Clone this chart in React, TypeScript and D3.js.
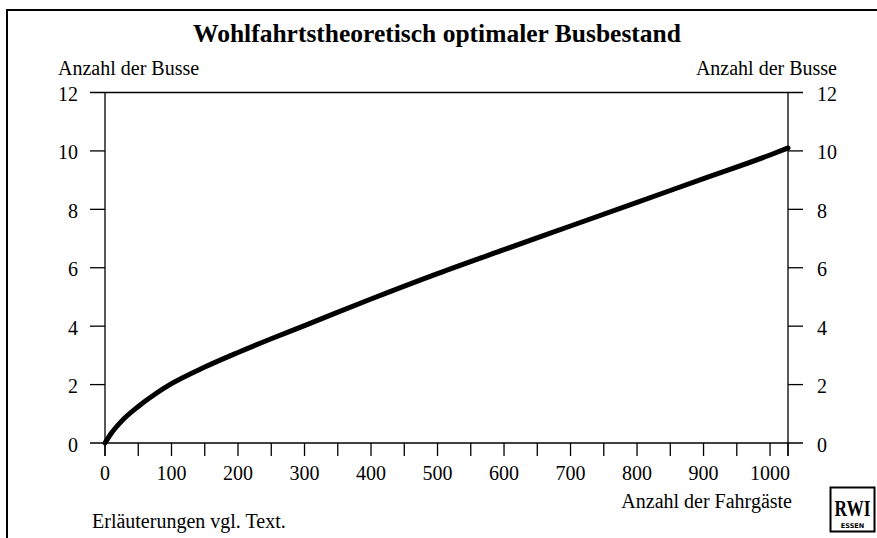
import React from 'react';
import * as d3 from 'd3';

// passengers (x) and optimal number of buses (y)
const passengers = [0, 10, 25, 50, 75, 100, 150, 200, 250, 300, 400, 500, 600, 700, 800, 900, 1000, 1027];
const buses = [0, 0.35, 0.75, 1.25, 1.67, 2.03, 2.6, 3.1, 3.57, 4.02, 4.93, 5.8, 6.62, 7.43, 8.24, 9.05, 9.86, 10.1];

const xTickLabels = [0, 100, 200, 300, 400, 500, 600, 700, 800, 900, 1000];
const xMinorTicks = [0, 50, 100, 150, 200, 250, 300, 350, 400, 450, 500, 550, 600, 650, 700, 750, 800, 850, 900, 950, 1000, 1027];
const yTicks = [0, 2, 4, 6, 8, 10, 12];

const W = 877;
const H = 538;
const font = '"Liberation Serif", "Times New Roman", serif';

const App = () => {
    const x = d3.scaleLinear().domain([0, 1027]).range([105, 788]);
    const y = d3.scaleLinear().domain([0, 12]).range([443, 92.5]);

    const line = d3.line<number>()
        .x((d, i) => x(passengers[i]))
        .y(d => y(d))
        .curve(d3.curveMonotoneX);

    const x0 = x.range()[0];
    const x1 = x.range()[1];

    return (
        <svg width={W} height={H} style={{ position: 'absolute', left: 0, top: 0, background: '#fff' }}
            fontFamily={font}>
            {/* frame */}
            <line x1={7} y1={10} x2={7} y2={H} stroke="#000" strokeWidth={2} />
            <line x1={6} y1={10} x2={W} y2={10} stroke="#000" strokeWidth={2} />

            <text x={437} y={42} textAnchor="middle" fontSize={25.5} fontWeight="bold">
                Wohlfahrtstheoretisch optimaler Busbestand
            </text>
            <text x={58} y={75} fontSize={20}>Anzahl der Busse</text>
            <text x={837} y={75} fontSize={20} textAnchor="end">Anzahl der Busse</text>

            {/* axes */}
            <g stroke="#000" strokeWidth={1.3}>
                <line x1={x0} y1={y(12)} x2={x0} y2={y(0) + 13} />
                <line x1={x1} y1={y(12)} x2={x1} y2={y(0) + 13} />
                <line x1={x0 - 15} y1={y(12)} x2={x1 + 15} y2={y(12)} />
                <line x1={x0 - 15} y1={y(0)} x2={x1 + 15} y2={y(0)} />
                {yTicks.slice(1, -1).map(t => (
                    <g key={t}>
                        <line x1={x0 - 15} y1={y(t)} x2={x0} y2={y(t)} />
                        <line x1={x1} y1={y(t)} x2={x1 + 15} y2={y(t)} />
                    </g>
                ))}
                {xMinorTicks.map(t => (
                    <line key={t} x1={x(t)} y1={y(0)} x2={x(t)} y2={y(0) + 13} />
                ))}
            </g>

            <g fontSize={20}>
                {yTicks.map(t => (
                    <g key={t}>
                        <text x={78} y={y(t) + 8.5} textAnchor="end">{t}</text>
                        <text x={817} y={y(t) + 8.5}>{t}</text>
                    </g>
                ))}
                {xTickLabels.map(t => (
                    <text key={t} x={x(t)} y={480} textAnchor="middle">{t}</text>
                ))}
            </g>

            <path d={line(buses) || ''} fill="none" stroke="#000" strokeWidth={5} strokeLinecap="round" />

            <text x={792} y={508} fontSize={20} textAnchor="end">Anzahl der Fahrgäste</text>
            <text x={92} y={528} fontSize={20}>Erläuterungen vgl. Text.</text>

            {/* RWI logo */}
            <rect x={830.5} y={487.5} width={44} height={44} fill="none" stroke="#000" strokeWidth={2} />
            <text transform="translate(852.5,516) scale(0.72,1)" textAnchor="middle" fontSize={24} fontWeight="bold">RWI</text>
            <text x={852.5} y={527.5} textAnchor="middle" fontSize={6.5} fontFamily='"DejaVu Sans", sans-serif' fontWeight="bold">ESSEN</text>
        </svg>
    );
};

export default App;
